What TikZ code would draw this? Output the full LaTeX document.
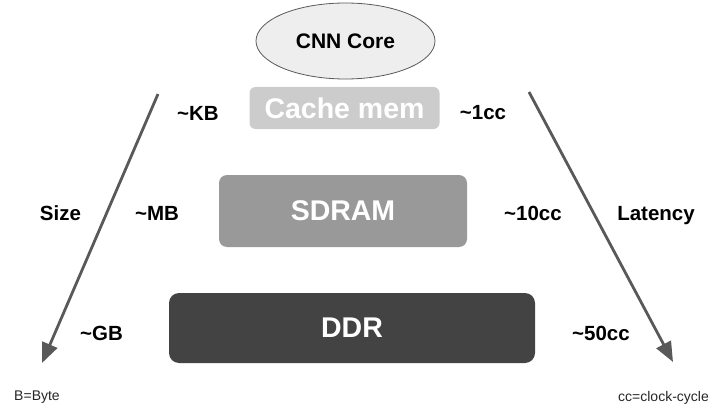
\documentclass[tikz,border=0pt]{standalone}
\usepackage{fontspec}
\setmainfont{Liberation Sans}
\usetikzlibrary{arrows.meta,shapes.geometric}
\definecolor{ellfill}{HTML}{EEEEEE}
\definecolor{ellline}{HTML}{595959}
\definecolor{cachefill}{HTML}{CCCCCC}
\definecolor{sdramfill}{HTML}{999999}
\definecolor{ddrfill}{HTML}{434343}
\definecolor{arrowcol}{HTML}{595959}
\tikzset{
  membox/.style={rectangle, inner sep=0pt, text=white, font=\bfseries\fontsize{28.5}{32}\selectfont},
  lbl/.style={inner sep=0pt, text=black, font=\bfseries\fontsize{20.5}{24}\selectfont},
  note/.style={inner sep=0pt, text=black!85, font=\fontsize{14}{16}\selectfont},
  bigarrow/.style={draw=arrowcol, line width=2.8pt, -{Triangle[length=20pt,width=16pt]}}
}
\begin{document}
\begin{tikzpicture}[x=1pt,y=-1pt]
\useasboundingbox (0,0) rectangle (718,412);
% CNN core
\node[ellipse, draw=ellline, fill=ellfill, line width=0.8pt, minimum width=179pt, minimum height=76pt, inner sep=0pt,
      font=\bfseries\fontsize{21}{24}\selectfont] (core) at (345.5,41) {CNN Core};
% memories
\node[membox, fill=cachefill, rounded corners=6pt, minimum width=190pt, minimum height=42pt] (cache) at (344.5,108) {Cache mem};
\node[membox, fill=sdramfill, rounded corners=8pt, minimum width=248pt, minimum height=72pt] (sdram) at (343,211) {SDRAM};
\node[membox, fill=ddrfill, rounded corners=10pt, minimum width=366pt, minimum height=70pt] (ddr) at (352,328) {DDR};
% arrows
\coordinate (ls) at (158,94);
\coordinate (le) at (42,363);
\coordinate (rs) at (529,92);
\coordinate (re) at (673,362);
\draw[bigarrow] (ls) -- (le);
\draw[bigarrow] (rs) -- (re);
% labels
\node[lbl] (kb) at (198,113) {\char`\~KB};
\node[lbl] (mb) at (157,213) {\char`\~MB};
\node[lbl] (gb) at (101.5,333) {\char`\~GB};
\node[lbl] (size) at (60.5,213) {Size};
\node[lbl] (c1) at (483,112.5) {\char`\~1cc};
\node[lbl] (c10) at (533,213) {\char`\~10cc};
\node[lbl] (c50) at (601,333.5) {\char`\~50cc};
\node[lbl] (lat) at (656,215.5) {Latency};
\node[note] (byte) at (37,397) {B=Byte};
\node[note] (cc) at (663.5,398) {cc=clock-cycle};
\end{tikzpicture}
\end{document}
